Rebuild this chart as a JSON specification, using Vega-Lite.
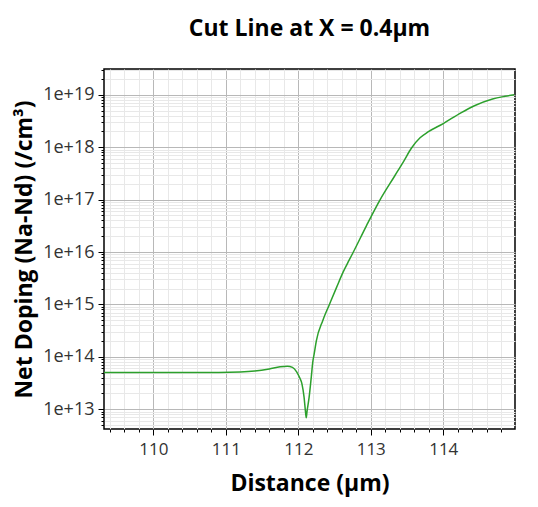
{
  "$schema": "https://vega.github.io/schema/vega-lite/v6.json",
  "width": 411,
  "height": 360,
  "autosize": "none",
  "padding": {"left": 104, "top": 69, "right": 23, "bottom": 78},
  "background": "white",
  "title": {"text": "Cut Line at X = 0.4µm", "font": "Open Sans", "fontSize": 23, "fontWeight": "bold", "color": "#000", "anchor": "middle", "offset": 20},
  "config": {
    "view": {"stroke": "#000", "strokeWidth": 1.5},
    "font": "Open Sans"
  },
  "data": {"values": [
    {"d": 109.3, "n": 5.01e13},
    {"d": 110.0, "n": 5.01e13},
    {"d": 110.5, "n": 5.01e13},
    {"d": 110.9, "n": 5.02e13},
    {"d": 111.2, "n": 5.13e13},
    {"d": 111.4, "n": 5.37e13},
    {"d": 111.6, "n": 5.89e13},
    {"d": 111.75, "n": 6.46e13},
    {"d": 111.85, "n": 6.61e13},
    {"d": 111.92, "n": 6.31e13},
    {"d": 111.98, "n": 5.13e13},
    {"d": 112.02, "n": 3.98e13},
    {"d": 112.05, "n": 3.09e13},
    {"d": 112.08, "n": 1.7e13},
    {"d": 112.1, "n": 8.9e12},
    {"d": 112.11, "n": 6.9e12},
    {"d": 112.12, "n": 8.9e12},
    {"d": 112.15, "n": 1.7e13},
    {"d": 112.18, "n": 4.17e13},
    {"d": 112.2, "n": 7.94e13},
    {"d": 112.22, "n": 1.15e14},
    {"d": 112.25, "n": 2.04e14},
    {"d": 112.34, "n": 5.01e14},
    {"d": 112.43, "n": 1e15},
    {"d": 112.53, "n": 2.14e15},
    {"d": 112.62, "n": 4.17e15},
    {"d": 112.7, "n": 6.92e15},
    {"d": 112.76, "n": 1e16},
    {"d": 112.94, "n": 3.16e16},
    {"d": 113.13, "n": 1e17},
    {"d": 113.33, "n": 2.82e17},
    {"d": 113.45, "n": 5.25e17},
    {"d": 113.56, "n": 9.55e17},
    {"d": 113.68, "n": 1.51e18},
    {"d": 113.79, "n": 1.95e18},
    {"d": 114.0, "n": 2.82e18},
    {"d": 114.25, "n": 4.57e18},
    {"d": 114.43, "n": 6.17e18},
    {"d": 114.68, "n": 8.32e18},
    {"d": 114.85, "n": 9.33e18},
    {"d": 114.98, "n": 1.0e19}
  ]},
  "mark": {"type": "line", "color": "#2ca02c", "strokeWidth": 1.5, "interpolate": "monotone", "clip": true},
  "encoding": {
    "x": {
      "field": "d", "type": "quantitative",
      "scale": {"domain": [109.32, 114.99], "nice": false, "zero": false},
      "axis": {
        "title": "Distance (µm)",
        "titleFont": "Open Sans", "titleFontSize": 23, "titleFontWeight": "bold", "titleColor": "#000", "titlePadding": 15,
        "values": [109.4, 109.6, 109.8, 110, 110.2, 110.4, 110.6, 110.8, 111, 111.2, 111.4, 111.6, 111.8, 112, 112.2, 112.4, 112.6, 112.8, 113, 113.2, 113.4, 113.6, 113.8, 114, 114.2, 114.4, 114.6, 114.8],
        "labelExpr": "abs(datum.value-round(datum.value))<0.01 ? format(datum.value,'d') : ''",
        "labelOverlap": false,
        "labelFont": "Open Sans", "labelFontSize": 17, "labelColor": "#333", "labelPadding": 6,
        "domain": false,
        "tickColor": "#000",
        "tickSize": {"condition": {"test": "abs(datum.value-round(datum.value))<0.01", "value": 6}, "value": 3},
        "grid": true,
        "gridColor": {"condition": {"test": "abs(datum.value-round(datum.value))<0.01", "value": "#b8b8b8"}, "value": "#e8e8e8"},
        "gridWidth": 1
      }
    },
    "y": {
      "field": "n", "type": "quantitative",
      "scale": {"type": "log", "domain": [4.2e12, 3.1e19], "nice": false, "zero": false},
      "axis": {
        "title": "Net Doping (Na-Nd) (/cm³)",
        "titleFont": "Open Sans", "titleFontSize": 23, "titleFontWeight": "bold", "titleColor": "#000", "titlePadding": 6,
        "values": [5e12, 6e12, 7e12, 8e12, 9e12, 1e13, 2e13, 3e13, 4e13, 5e13, 6e13, 7e13, 8e13, 9e13, 1e14, 2e14, 3e14, 4e14, 5e14, 6e14, 7e14, 8e14, 9e14, 1e15, 2e15, 3e15, 4e15, 5e15, 6e15, 7e15, 8e15, 9e15, 1e16, 2e16, 3e16, 4e16, 5e16, 6e16, 7e16, 8e16, 9e16, 1e17, 2e17, 3e17, 4e17, 5e17, 6e17, 7e17, 8e17, 9e17, 1e18, 2e18, 3e18, 4e18, 5e18, 6e18, 7e18, 8e18, 9e18, 1e19, 2e19, 3e19],
        "labelExpr": "abs(log(datum.value)/LN10-round(log(datum.value)/LN10))<0.001 ? '1e+' + round(log(datum.value)/LN10) : ''",
        "labelOverlap": false,
        "labelFont": "Open Sans", "labelFontSize": 18, "labelColor": "#333", "labelPadding": 4,
        "domain": false,
        "tickColor": "#000",
        "tickSize": {"condition": {"test": "abs(log(datum.value)/LN10-round(log(datum.value)/LN10))<0.001", "value": 6}, "value": 3},
        "grid": true,
        "gridColor": {"condition": {"test": "abs(log(datum.value)/LN10-round(log(datum.value)/LN10))<0.001", "value": "#b8b8b8"}, "value": "#e8e8e8"},
        "gridWidth": 1
      }
    }
  }
}
